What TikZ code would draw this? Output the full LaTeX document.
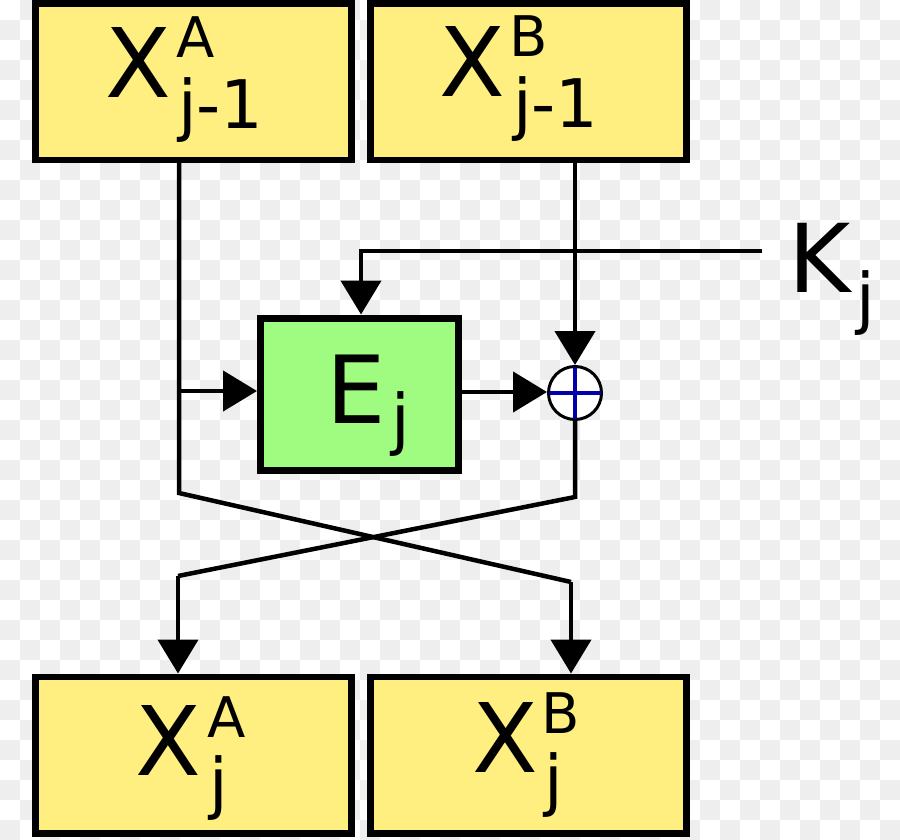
\documentclass[tikz,border=0pt]{standalone}
\usepackage{fontspec}
\setmainfont{DejaVu Sans}
\usetikzlibrary{arrows.meta}
\definecolor{bggray}{RGB}{238,238,238}
\definecolor{boxyellow}{RGB}{255,238,128}
\definecolor{boxgreen}{RGB}{160,252,128}
\definecolor{xorblue}{RGB}{0,0,170}
\newcommand\bigf{\fontsize{96}{96}\selectfont}
\newcommand\midf{\fontsize{94}{94}\selectfont}
\newcommand\supf{\fontsize{56}{56}\selectfont}
\newcommand\subf{\fontsize{67}{67}\selectfont}
\tikzset{
  xbox/.style={draw=black, fill=boxyellow, line width=6.5pt, minimum width=316pt, minimum height=156.5pt, inner sep=0pt},
  ebox/.style={draw=black, fill=boxgreen, line width=7pt, minimum width=197.5pt, minimum height=152pt, inner sep=0pt},
  xorc/.style={circle, draw=black, fill=white, line width=3pt, minimum size=53pt, inner sep=0pt},
  txt/.style={anchor=base west, inner sep=0pt, outer sep=0pt},
  conn/.style={draw=black, line width=4.5pt, line join=miter},
  arr/.style={conn, -{Triangle[length=34pt, width=40pt]}},
  cross/.style={draw=xorblue, line width=3.5pt}
}
\begin{document}
\begin{tikzpicture}[x=1pt, y=-1pt]
\useasboundingbox (0,0) rectangle (900,840);
\begin{scope}
\clip (0,0) rectangle (900,840);
\fill[white] (0,0) rectangle (900,840);
\foreach \j in {0,...,41}{
  \foreach \i in {0,2,...,44}{
    \pgfmathtruncatemacro\k{\i+mod(\j+1,2)}
    \fill[bggray] (\k*20,\j*20) rectangle +(20,20);
  }
}
\end{scope}

% boxes
\node[xbox] (xa) at (193.5,81.75) {};
\node[xbox] (xb) at (528.5,81.75) {};
\node[xbox] (ya) at (193.5,755) {};
\node[xbox] (yb) at (528.5,755) {};
\node[ebox] (ej) at (359.25,394) {};
\node[xorc] (xor) at (575,393) {};
\draw[cross] ([yshift=-26pt]xor.center) -- ([yshift=26pt]xor.center);
\draw[cross] ([xshift=-26pt]xor.center) -- ([xshift=26pt]xor.center);

% labels
\node[txt] (xaX) at (105,98) {\bigf X};
\node[txt] (xaA) at (176.5,58) {\supf A};
\node[txt] (xaj) at (178,129) {\subf j-1};
\node[txt] (xbX) at (439,97) {\bigf X};
\node[txt] (xbB) at (509.5,57) {\supf B};
\node[txt] (xbj) at (513,128) {\subf j-1};
\node[txt] (yaX) at (135,775) {\bigf X};
\node[txt] (yaA) at (207.5,737) {\supf A};
\node[txt] (yaj) at (209,806) {\subf j};
\node[txt] (ybX) at (472,772) {\bigf X};
\node[txt] (ybB) at (541.5,733) {\supf B};
\node[txt] (ybj) at (544,803) {\subf j};
\node[txt] (ejE) at (326,423) {\midf E};
\node[txt] (ejj) at (391,442) {\subf j};
\node[txt] (kK) at (788,292) {\fontsize{95}{95}\selectfont K};
\node[txt] (kj) at (856,321) {\subf j};

% connector points
\coordinate (a1) at (179,493);
\coordinate (a2) at (571,582);
\coordinate (br) at (179,391);
\coordinate (b1) at (575,497);
\coordinate (b2) at (178,576);
\coordinate (kend) at (762,251);
\coordinate (kc) at (361,251);
\coordinate (ex) at (0,392);

% connectors
\draw[conn] (xa.south -| a1) -- (a1) -- (a2);
\draw[arr] (a2) -- (yb.north -| a2);
\draw[arr] (br) -- (ej.west |- br);
\draw[arr] (xb.south -| xor) -- (xor.north);
\draw[arr] (ej.east |- ex) -- (xor.west |- ex);
\draw[conn] (xor.south) -- (b1) -- (b2);
\draw[arr] (b2) -- (ya.north -| b2);
\draw[arr] (kend) -- (kc) -- (ej.north -| kc);
\end{tikzpicture}
\end{document}
